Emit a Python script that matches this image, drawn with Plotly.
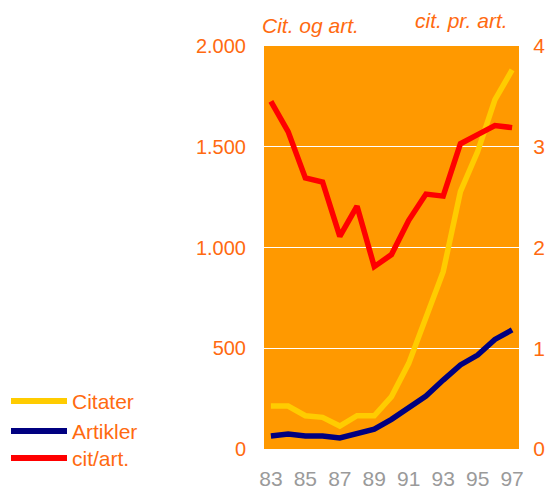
import plotly.graph_objects as go

years = list(range(1983, 1998))
year_labels = [83, 85, 87, 89, 91, 93, 95, 97]
citater = [213, 213, 165, 157, 114, 165, 165, 260, 425, 660, 880, 1277, 1476, 1732, 1881]
artikler = [64, 74, 64, 64, 55, 78, 98, 147, 202, 263, 342, 417, 466, 544, 591]
cit_art = [3.45, 3.15, 2.69, 2.65, 2.11, 2.41, 1.81, 1.93, 2.27, 2.53, 2.51, 3.03, 3.12, 3.21, 3.19]
left_ticks = [0, 500, 1000, 1500, 2000]
left_labels = ["0", "500", "1.000", "1.500", "2.000"]
right_ticks = [0, 1, 2, 3, 4]
names = ["Citater", "Artikler", "cit/art."]
colors = ["#FFCC00", "#000080", "#FF0000"]

ORANGE_TXT = "#FF6A10"
FONT = "Liberation Sans, Arial, sans-serif"

fig = go.Figure()
fig.add_trace(go.Scatter(x=years, y=citater, mode="lines", name=names[0],
                         line=dict(color=colors[0], width=5.5), yaxis="y"))
fig.add_trace(go.Scatter(x=years, y=artikler, mode="lines", name=names[1],
                         line=dict(color=colors[1], width=5.5), yaxis="y"))
fig.add_trace(go.Scatter(x=years, y=cit_art, mode="lines", name=names[2],
                         line=dict(color=colors[2], width=5.5), yaxis="y2"))

L, R, T, B = 264, 29, 46, 40
W, H = 548, 489
pw, ph = W - L - R, H - T - B

def px(x):
    return (x - L) / pw

def py(y):
    return (H - B - y) / ph

shapes = []
annotations = []
leg_y = [401, 431, 458]
for nm, c, yy in zip(names, colors, leg_y):
    shapes.append(dict(type="line", xref="paper", yref="paper",
                       x0=px(11), x1=px(67), y0=py(yy), y1=py(yy),
                       line=dict(color=c, width=6)))
    annotations.append(dict(text=nm, xref="paper", yref="paper", x=px(70), y=py(yy),
                            xanchor="left", yanchor="middle", showarrow=False,
                            font=dict(family=FONT, size=21, color=ORANGE_TXT)))

annotations.append(dict(text="<i>Cit. og art.</i>", xref="paper", yref="paper",
                        x=px(260), y=py(25), xanchor="left", yanchor="middle",
                        showarrow=False, font=dict(family=FONT, size=21, color=ORANGE_TXT)))
annotations.append(dict(text="<i>cit. pr. art.</i>", xref="paper", yref="paper",
                        x=px(461), y=py(21), xanchor="center", yanchor="middle",
                        showarrow=False, font=dict(family=FONT, size=21, color=ORANGE_TXT)))

fig.update_layout(
    width=W, height=H,
    margin=dict(l=L, r=R, t=T, b=B, pad=0, autoexpand=False),
    paper_bgcolor="white",
    plot_bgcolor="#FF9900",
    showlegend=False,
    font=dict(family=FONT, size=18),
    xaxis=dict(range=[1982.6, 1997.4], tickvals=[1983, 1985, 1987, 1989, 1991, 1993, 1995, 1997],
               ticktext=[str(v) for v in year_labels], showgrid=False, zeroline=False,
               ticks="outside", ticklen=11, tickcolor="rgba(0,0,0,0)", automargin=False,
               tickfont=dict(family=FONT, size=21, color="#9A9A9A"), showline=False),
    yaxis=dict(range=[0, 2000], tickvals=left_ticks, ticktext=left_labels,
               showgrid=True, gridcolor="white", gridwidth=1, zeroline=False,
               ticks="outside", ticklen=13, tickcolor="rgba(0,0,0,0)", automargin=False,
               tickfont=dict(family=FONT, size=20, color=ORANGE_TXT), showline=False),
    yaxis2=dict(range=[0, 4], tickvals=right_ticks, ticktext=[str(v) for v in right_ticks],
                overlaying="y", side="right", showgrid=False, zeroline=False,
                ticks="outside", ticklen=9, tickcolor="rgba(0,0,0,0)", automargin=False,
                tickfont=dict(family=FONT, size=21, color=ORANGE_TXT), showline=False),
    shapes=shapes,
    annotations=annotations,
)

fig.write_html("out.html", config={"displayModeBar": False},
               post_script="document.body.style.margin='0';document.body.style.padding='0';")
